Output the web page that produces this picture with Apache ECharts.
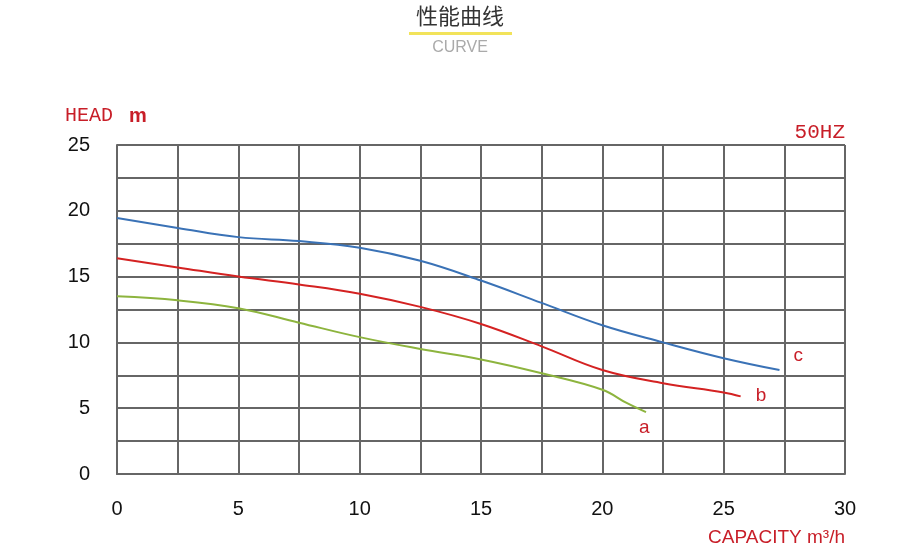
<!DOCTYPE html>
<html>
<head>
<meta charset="utf-8">
<script src="https://cdn.jsdelivr.net/npm/echarts@6/dist/echarts.min.js"></script>
<style>html,body{margin:0;padding:0;background:#fff}#c{width:920px;height:550px}</style>
</head>
<body>
<div id="c"></div>
<script>
// Curve a
const capA = [0, 2.5, 5, 7.5, 10, 12.5, 15, 17.5, 20, 21, 21.8];
const headA = [13.5, 13.2, 12.6, 11.5, 10.4, 9.5, 8.7, 7.65, 6.4, 5.4, 4.7];
// Curve b
const capB = [0, 2.5, 5, 7.5, 10, 12.5, 15, 17.5, 20, 22.5, 25, 25.7];
const headB = [16.4, 15.7, 15.0, 14.4, 13.7, 12.7, 11.4, 9.7, 7.9, 6.9, 6.2, 5.9];
// Curve c
const capC = [0, 2.5, 5, 7.5, 10, 12.5, 15, 17.5, 20, 22.5, 25, 27.3];
const headC = [19.45, 18.7, 18.0, 17.7, 17.2, 16.2, 14.7, 13.0, 11.3, 10.0, 8.8, 7.9];
const curveNames = ['a', 'b', 'c'];
const xTicks = [0, 5, 10, 15, 20, 25, 30];
const yTicks = [0, 5, 10, 15, 20, 25];

const RED = '#c81e28';
const GRID = '#666';
function pairs(xs, ys) { return xs.map((x, i) => [x, ys[i]]); }

const chart = echarts.init(document.getElementById('c'), null, {renderer: 'canvas'});
function mkSeries(name, xs, ys, color, off) {
  return {
    name: name, type: 'line', smooth: 0.4, showSymbol: false, symbol: 'none',
    data: pairs(xs, ys),
    lineStyle: {color: color, width: 2},
    itemStyle: {color: color},
    endLabel: {show: true, formatter: name, color: RED, fontSize: 19,
      fontFamily: 'Liberation Sans', distance: 0, offset: off},
    z: 5
  };
}
chart.setOption({
  animation: false,
  grid: {left: 117, right: 75, top: 145, bottom: 76},
  xAxis: {
    type: 'value', min: 0, max: 30, interval: 2.5,
    axisLine: {lineStyle: {color: GRID, width: 2}},
    axisTick: {show: false},
    splitLine: {show: true, lineStyle: {color: GRID, width: 2}},
    axisLabel: {margin: 25, color: '#111', fontSize: 20, fontFamily: 'Liberation Sans',
      formatter: v => xTicks.indexOf(v) >= 0 ? String(v) : ''}
  },
  yAxis: {
    type: 'value', min: 0, max: 25, interval: 2.5,
    axisLine: {show: true, lineStyle: {color: GRID, width: 2}},
    axisTick: {show: false},
    splitLine: {show: true, lineStyle: {color: GRID, width: 2}},
    axisLabel: {margin: 27, color: '#111', fontSize: 20, fontFamily: 'Liberation Sans',
      formatter: v => yTicks.indexOf(v) >= 0 ? String(v) : ''}
  },
  series: [
    mkSeries(curveNames[0], capA, headA, '#8db43e', [-7, 16]),
    mkSeries(curveNames[1], capB, headB, '#d42222', [15, -1]),
    mkSeries(curveNames[2], capC, headC, '#3a72b6', [14, -14])
  ],
  graphic: [
    {type: 'text', left: 'center', top: 5, style: {text: '性能曲线', fontSize: 22,
      fontFamily: 'Noto Sans CJK SC', fill: '#333'}},
    {type: 'rect', shape: {x: 409, y: 32, width: 103, height: 3}, style: {fill: '#f2e35a'}},
    {type: 'text', left: 'center', top: 40, style: {text: 'CURVE', fontSize: 16,
      fontFamily: 'Liberation Sans', fill: '#aaa'}},
    {type: 'text', x: 65, y: 106, style: {text: '{n|HEAD }{b|m}',
      rich: {n: {fontSize: 20, fontFamily: 'Liberation Mono', fill: RED},
             b: {fontSize: 20, fontFamily: 'Liberation Sans', fontWeight: 'bold', fill: RED,
                 padding: [0, 0, 0, 4]}}}},
    {type: 'text', x: 845, y: 122, style: {text: '50HZ', fontSize: 21, fontFamily: 'Liberation Mono',
      fill: RED, textAlign: 'right'}},
    {type: 'text', x: 845, y: 528, style: {text: 'CAPACITY m³/h', fontSize: 19,
      fontFamily: 'Liberation Sans', fill: RED, textAlign: 'right'}}
  ]
});
</script>
</body>
</html>
